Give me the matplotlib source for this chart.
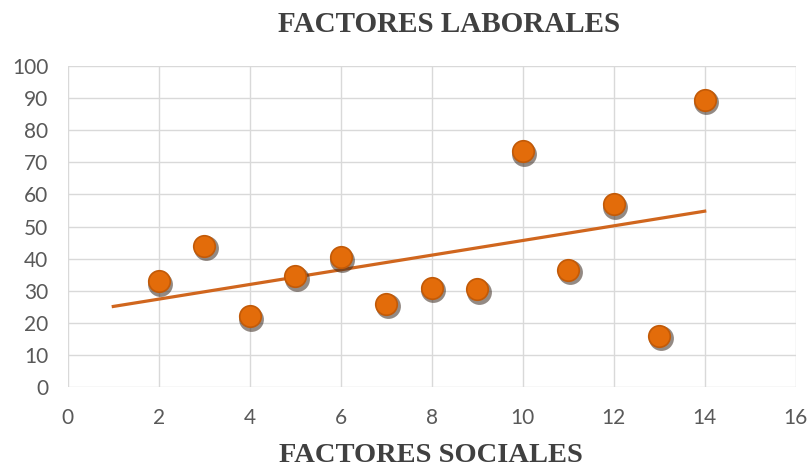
import numpy as np
import matplotlib.pyplot as plt
from matplotlib import transforms

# Datos
factores_sociales = [2, 3, 4, 5, 6, 7, 8, 9, 10, 11, 12, 13, 14]
factores_laborales = [33, 44, 22, 34.5, 40.5, 26, 31, 30.5, 73.5, 36.5, 57, 16, 89.5]

x_ticks = [0, 2, 4, 6, 8, 10, 12, 14, 16]
y_ticks = [0, 10, 20, 30, 40, 50, 60, 70, 80, 90, 100]

# Linea de tendencia (lineal, de x=1 a x=14)
tendencia_x = [1, 14]

fig = plt.figure(figsize=(8.07, 4.68), dpi=100)
ax = fig.add_axes([0.084, 0.173, 0.902, 0.686])

# Sombra de los puntos
sombra = transforms.offset_copy(ax.transData, fig=fig, x=1.5, y=-2.5, units='dots')
ax.scatter(factores_sociales, factores_laborales, s=320, color='#3a2a20',
           alpha=0.55, linewidths=0, transform=sombra, zorder=3)
ax.scatter(factores_sociales, factores_laborales, s=240, color='#E36C0A',
           edgecolors='#C25A08', linewidths=1.2, zorder=4)

# Tendencia
m, b = np.polyfit(factores_sociales, factores_laborales, 1)
tx = np.array(tendencia_x)
ax.plot(tx, m * tx + b, color='#D0661E', linewidth=2.3, zorder=2)

ax.set_xlim(0, 16)
ax.set_ylim(0, 100)
ax.set_xticks(x_ticks)
ax.set_yticks(y_ticks)
ax.grid(True, color='#D9D9D9', linewidth=1)
ax.set_axisbelow(True)
for s in ax.spines.values():
    s.set_visible(False)
ax.tick_params(length=0, labelsize=15, labelcolor='#595959')
ax.tick_params(axis='x', pad=15)
ax.tick_params(axis='y', pad=14)
for lab in ax.get_xticklabels() + ax.get_yticklabels():
    lab.set_family('Lato')

fig.text(0.556, 0.932, 'FACTORES LABORALES', ha='center', va='baseline',
         family='Liberation Serif', fontweight='bold', fontsize=21, color='#404040')
fig.text(0.534, 0.012, 'FACTORES SOCIALES', ha='center', va='baseline',
         family='Liberation Serif', fontweight='bold', fontsize=20.5, color='#404040')

fig.savefig('out.png', dpi=100)
